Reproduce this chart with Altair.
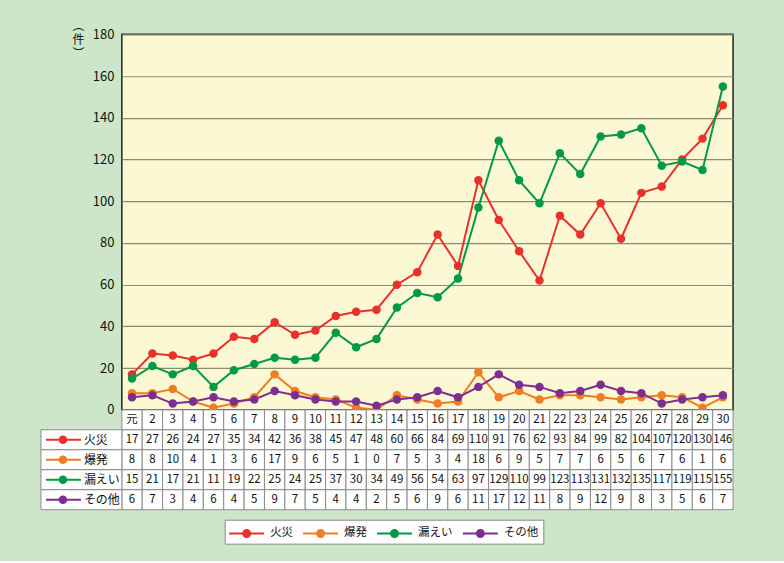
import altair as alt
import pandas as pd

# ---------------- data ----------------
years = ["元"] + [str(i) for i in range(2, 31)]
series = ["火災", "爆発", "漏えい", "その他"]
colors = ["#e8312b", "#ef7d23", "#009a44", "#7c2f8e"]

fire = [17, 27, 26, 24, 27, 35, 34, 42, 36, 38, 45, 47, 48, 60, 66, 84, 69, 110, 91, 76,
        62, 93, 84, 99, 82, 104, 107, 120, 130, 146]
explosion = [8, 8, 10, 4, 1, 3, 6, 17, 9, 6, 5, 1, 0, 7, 5, 3, 4, 18, 6, 9,
             5, 7, 7, 6, 5, 6, 7, 6, 1, 6]
leak = [15, 21, 17, 21, 11, 19, 22, 25, 24, 25, 37, 30, 34, 49, 56, 54, 63, 97, 129, 110,
        99, 123, 113, 131, 132, 135, 117, 119, 115, 155]
other = [6, 7, 3, 4, 6, 4, 5, 9, 7, 5, 4, 4, 2, 5, 6, 9, 6, 11, 17, 12,
         11, 8, 9, 12, 9, 8, 3, 5, 6, 7]
values = [fire, explosion, leak, other]

y_ticks = [0, 20, 40, 60, 80, 100, 120, 140, 160, 180]
y_title = ["︵", "件", "︶"]
header_key = "年度"
rows = [header_key] + series

# ---------------- tables built from the lists ----------------
long_rows = []
for s, vals in zip(series, values):
    for yname, v in zip(years, vals):
        long_rows.append({"year": yname, "series": s, "value": v})
df = pd.DataFrame(long_rows)

tbl_rows = []
for i, yname in enumerate(years):
    tbl_rows.append({"year": yname, "row": header_key, "text": yname})
    for s, vals in zip(series, values):
        tbl_rows.append({"year": yname, "row": s, "text": str(vals[i])})
tbl_df = pd.DataFrame(tbl_rows)
lab_df = pd.DataFrame({"row": series})

FONT = "Noto Sans CJK JP"
GRID = "#8c8a72"
CELL_STROKE = "#8a8a8a"
TEXT = "#111111"
PLOT_W = 612
LABEL_W = 81

# ---------------- line chart ----------------
x_top = alt.X("year:N", sort=years,
              scale=alt.Scale(type="point", domain=years, padding=0.5), axis=None)
y_top = alt.Y("value:Q",
              scale=alt.Scale(domain=[0, 180], nice=False),
              axis=alt.Axis(values=y_ticks, grid=True, gridColor=GRID, gridWidth=1.2,
                            domain=False, ticks=False, labelPadding=8,
                            labelFont=FONT, labelFontSize=13, labelColor=TEXT,
                            title=y_title, titleAngle=0, titleAlign="center",
                            titleBaseline="top", titleX=-44, titleY=-14,
                            titleFont=FONT, titleFontSize=12, titleFontWeight="normal",
                            titleLineHeight=14, titleColor=TEXT))
base = alt.Chart(df).encode(
    x=x_top, y=y_top,
    color=alt.Color("series:N", sort=series,
                    scale=alt.Scale(domain=series, range=colors), legend=None),
)
lines = base.mark_line(strokeWidth=2)
points = base.mark_circle(size=72, opacity=1)
top = alt.layer(lines, points).properties(
    width=PLOT_W, height=376,
    view=alt.ViewBackground(fill="#fbf8d3", stroke="#222222", strokeWidth=1.5),
)

# ---------------- data table (with its row-label column on the left) ----------------
x_tbl = alt.X("year:N", sort=years,
              scale=alt.Scale(type="band", domain=years, paddingInner=0, paddingOuter=0),
              axis=None)
y_tbl = alt.Y("row:N", sort=rows,
              scale=alt.Scale(type="band", domain=rows, paddingInner=0, paddingOuter=0),
              axis=None)
cells = alt.Chart(tbl_df).mark_rect(fill="white", stroke=CELL_STROKE, strokeWidth=1).encode(
    x=x_tbl, y=y_tbl)
cell_text = alt.Chart(tbl_df).mark_text(font=FONT, fontSize=11.5, color=TEXT).encode(
    x=x_tbl, y=y_tbl, text="text:N")

legend_symbol = ("M-1.944,-0.111H1.944V0.111H-1.944Z "
                 "M0.5,0A0.5,0.5,0,1,1,-0.5,0A0.5,0.5,0,1,1,0.5,0Z")
series_legend = alt.Legend(orient="none", legendX=103, legendY=110,
                           direction="horizontal", title=None,
                           symbolType=legend_symbol, symbolSize=324,
                           symbolOffset=8.5, labelOffset=14.5,
                           columnPadding=10, padding=4.5,
                           fillColor="white", strokeColor="#888888",
                           symbolStrokeWidth=0,
                           labelFont=FONT, labelFontSize=11.5, labelColor=TEXT)
lab_scale = alt.Scale(domain=series, range=colors)

lab_cells = alt.Chart(lab_df).mark_rect(fill="white", stroke=CELL_STROKE, strokeWidth=1).encode(
    x=alt.value(-LABEL_W), x2=alt.value(0), y=y_tbl)
lab_rule = alt.Chart(lab_df).mark_rule(strokeWidth=2).encode(
    x=alt.value(-76), x2=alt.value(-41), y=y_tbl,
    stroke=alt.Stroke("row:N", sort=series, scale=lab_scale, legend=series_legend))
lab_dot = alt.Chart(lab_df).mark_circle(size=72, opacity=1).encode(
    x=alt.value(-59), y=y_tbl,
    fill=alt.Fill("row:N", sort=series, scale=lab_scale, legend=series_legend))
lab_text = alt.Chart(lab_df).mark_text(align="left", font=FONT, fontSize=12, color=TEXT).encode(
    x=alt.value(-38), y=y_tbl, text="row:N")

table = alt.layer(cells, cell_text, lab_cells, lab_rule, lab_dot, lab_text).properties(
    width=PLOT_W, height=100,
    view=alt.ViewBackground(fill="transparent", stroke="transparent"))

chart = alt.vconcat(top, table, spacing=0, bounds="flush").resolve_scale(
    color="independent", fill="independent", stroke="independent"
).properties(
    background="#cde6c9",
    padding={"left": 40, "top": 18, "right": 50, "bottom": 16},
).configure_view(strokeWidth=0)

chart.save("out.html", embed_options={"renderer": "svg", "actions": False})
